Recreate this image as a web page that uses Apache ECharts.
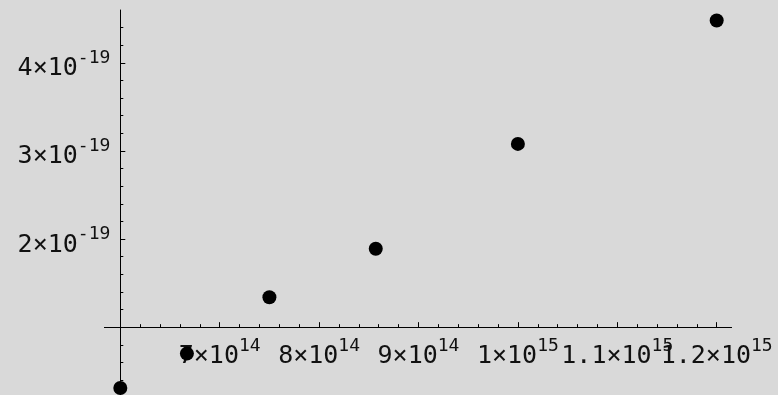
<!DOCTYPE html>
<html>
<head>
<meta charset="utf-8">
<script src="https://cdn.jsdelivr.net/npm/echarts@6/dist/echarts.min.js"></script>
<style>
  html, body { margin: 0; padding: 0; background: #d9d9d9; }
  #main { width: 778px; height: 395px; }
</style>
</head>
<body>
<div id="main"></div>
<script>
// frequency (Hz) against energy (J)
let xValues = [6.0e14, 6.67e14, 7.5e14, 8.57e14, 1.0e15, 1.2e15];
let yValues = [0.31e-19, 0.70e-19, 1.34e-19, 1.89e-19, 3.08e-19, 4.48e-19];

// labelled ticks
let xTicks = [7e14, 8e14, 9e14, 1.0e15, 1.1e15, 1.2e15];
let yTicks = [2e-19, 3e-19, 4e-19];

let xRange = [5.84e14, 1.215e15];
let yRange = [0.23e-19, 4.6e-19];
let origin = [6e14, 1e-19];   // where the two axes cross

let font = 'DejaVu Sans Mono';
let grid = { left: 104.4, right: 46.4, top: 10, bottom: 0 };

// small ticks, 5 per labelled step
function minorTicks(o, step, range) {
  let out = [];
  for (let k = -20; k <= 60; k++) {
    if (k % 5 === 0) continue;
    let v = o + k * step;
    if (v > range[0] + step / 2 && v < range[1] - step / 2) out.push(v);
  }
  return out;
}
let xMinor = minorTicks(origin[0], 2e13, xRange);
let yMinor = minorTicks(origin[1], 0.2e-19, yRange);

function sci(v) {
  let e = Math.floor(Math.log10(Math.abs(v)) + 1e-9);
  let m = parseFloat((v / Math.pow(10, e)).toFixed(2));
  return '{m|' + m + '×10}{e|' + e + '}';
}

// exponent raised with bottom padding
let rich = {
  m: { fontFamily: font, fontSize: 25, lineHeight: 28, verticalAlign: 'bottom', color: '#111' },
  e: { fontFamily: font, fontSize: 18, lineHeight: 28, verticalAlign: 'bottom', padding: [0, 0, 14, 0], color: '#111' }
};

let chart = echarts.init(document.getElementById('main'));
let W = chart.getWidth() - grid.left - grid.right;
let H = chart.getHeight() - grid.top - grid.bottom;
// shift the axes inward so they meet at origin
let xOffset = -(origin[1] - yRange[0]) / (yRange[1] - yRange[0]) * H;
let yOffset = -(origin[0] - xRange[0]) / (xRange[1] - xRange[0]) * W;

// x labels overlap (1.1 / 1.2), echarts would drop one, so alternate
// them over two axes: kind 'line' = line + small ticks, 'a'/'b' = big ticks + labels
let xEven = xTicks.filter((v, i) => i % 2 === 0);
let xOdd = xTicks.filter((v, i) => i % 2 === 1);

function xAxisOf(kind) {
  let labels = kind === 'a' ? xEven : kind === 'b' ? xOdd : null;
  return {
    type: 'value',
    position: 'bottom',
    offset: xOffset,
    min: xRange[0],
    max: xRange[1],
    splitLine: { show: false },
    axisLine: { show: kind === 'line', onZero: false, lineStyle: { color: '#000', width: 1 } },
    axisTick: {
      show: kind !== 'b',
      inside: true,
      length: kind === 'a' ? 5 : 3,
      customValues: kind === 'a' ? xTicks : xMinor,
      lineStyle: { color: '#000', width: 1 }
    },
    axisLabel: labels ? {
      customValues: labels,
      margin: 14,
      formatter: sci,
      rich: rich
    } : { show: false }
  };
}

function yAxisOf(major) {
  return {
    type: 'value',
    position: 'left',
    offset: yOffset,
    min: yRange[0],
    max: yRange[1],
    splitLine: { show: false },
    axisLine: { show: !major, onZero: false, lineStyle: { color: '#000', width: 1 } },
    axisTick: {
      inside: true,
      length: major ? 5 : 3,
      customValues: major ? yTicks : yMinor,
      lineStyle: { color: '#000', width: 1 }
    },
    axisLabel: major ? {
      customValues: yTicks,
      showMinLabel: true,
      showMaxLabel: true,
      margin: 10,
      padding: [9, 0, 0, 0],
      formatter: sci,
      rich: rich
    } : { show: false }
  };
}

let points = xValues.map((x, i) => [x, yValues[i]]);

let option = {
  backgroundColor: '#d9d9d9',
  animation: false,
  grid: grid,
  xAxis: [xAxisOf('line'), xAxisOf('a'), xAxisOf('b')],
  yAxis: [yAxisOf(false), yAxisOf(true)],
  series: [{
    type: 'scatter',
    xAxisIndex: 0,
    yAxisIndex: 0,
    symbol: 'circle',
    symbolSize: 14,
    clip: false,
    itemStyle: { color: '#000', opacity: 1 },
    data: points
  }]
};
chart.setOption(option);
</script>
</body>
</html>
